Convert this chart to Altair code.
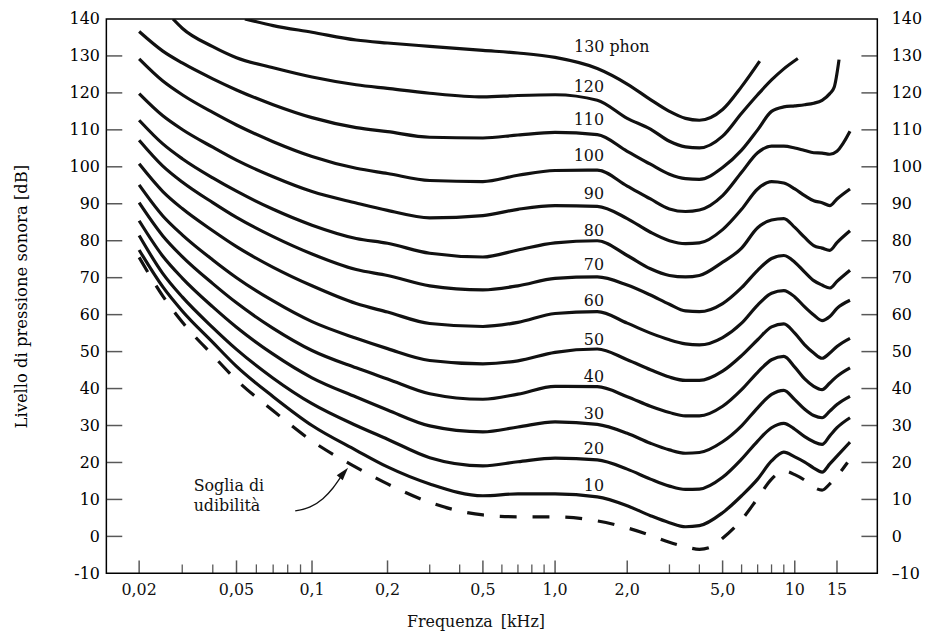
import altair as alt
import pandas as pd

# ---------------- data ----------------
FREQ = [0.02, 0.025, 0.03, 0.04, 0.05, 0.07, 0.1, 0.15, 0.2, 0.3, 0.5, 0.7, 1.0, 1.5, 2.0, 2.5,
        3.0, 3.5, 4.0, 5.0, 6.0, 7.0, 8.0, 9.0, 10.0, 11.0, 12.0, 13.0, 14.0, 15.0, 17.0]

PHON_10 = [77.5, 67.5, 61, 52.5, 46, 37.8, 30, 23.3, 18.8, 14.2, 11, 11.5, 11.5, 10.7, 8.3, 5.6,
           3.7, 2.6, 2.9, 6.4, 11, 15.5, 20.4, 22.8, 21.5, 20.1, 18.5, 17.4, 19.6, 21.7, 25.5]
PHON_20 = [81.4, 71.1, 64.8, 56.5, 50.6, 42.8, 35.9, 30, 26.3, 21.3, 19.1, 20.2, 21.2, 20.7, 18.2, 15.5,
           13.6, 12.7, 12.8, 16, 20.9, 25.8, 29.4, 30.6, 29, 27, 25.6, 24.9, 27.2, 29.4, 32.1]
PHON_30 = [85.4, 75.8, 69.9, 62.1, 56.6, 49.3, 42.9, 37.7, 34.2, 29.9, 28.3, 29.6, 31, 30.3, 27.9, 25.2,
           23.4, 22.5, 22.7, 25.6, 29.9, 34.8, 38.4, 39.5, 37, 34.4, 32.7, 32.1, 33.9, 35.7, 37.9]
PHON_40 = [90.3, 81.3, 75.7, 68.4, 63.2, 56.3, 50.3, 45.6, 42.6, 38.6, 37.1, 38.5, 40.6, 40.5, 37.8, 35.2,
           33.5, 32.6, 32.6, 35.2, 39.7, 44.4, 47.8, 48.7, 45.8, 42.6, 40.6, 39.7, 41.5, 43.3, 45.6]
PHON_50 = [95.1, 86.7, 81.6, 74.8, 70.0, 63.7, 58.1, 53.6, 50.8, 47.6, 46.7, 47.5, 49.8, 50.7, 47.8, 45.1,
           43.1, 42.2, 42.2, 44.7, 48.9, 53.2, 56.7, 57.5, 55, 51.8, 49.6, 48.2, 49.6, 51.4, 53.6]
PHON_60 = [100.8, 93.3, 88.7, 82.7, 78.4, 72.8, 67.8, 63, 60.7, 57.6, 56.8, 57.9, 60.3, 60.8, 57.7, 55,
           53.2, 52.1, 51.8, 53.8, 57.7, 62.6, 65.8, 66.5, 64.8, 62.1, 59.9, 58.4, 59.5, 61.7, 63.9]
PHON_70 = [107.2, 100.2, 95.9, 90.3, 86.3, 81.1, 76.4, 72.2, 70.6, 67.8, 66.7, 67.8, 69.8, 70.2, 68, 65.3,
           62.8, 61, 60.8, 63, 67.3, 72, 75.2, 76, 74.2, 71.5, 69.2, 68, 67.2, 69, 72]
PHON_80 = [112.6, 106.2, 102.2, 97.0, 93.4, 88.5, 84.2, 80.6, 79.3, 76.6, 75.6, 77.5, 79.4, 80, 76, 72.4,
           70.6, 70.2, 70.6, 74.2, 78, 83.5, 85.6, 86, 83.6, 80.9, 78.7, 78, 77.4, 79.5, 82.7]
PHON_90 = [119.8, 113.8, 110.1, 105.3, 101.8, 97.3, 93.3, 90.2, 88.2, 86.2, 86.8, 88.5, 89.5, 89.3, 86, 82.3,
           80, 79.2, 79.4, 83, 88.5, 94, 96, 95.6, 94, 92.2, 90.8, 90.3, 89.5, 91.3, 94]
PHON_100 = [129.2, 123.2, 119.5, 114.7, 111.3, 106.8, 102.8, 99.6, 98.2, 96.3, 96.0, 97.7, 99, 99.1, 94.8, 91.3,
            88.6, 87.9, 88.3, 92.2, 98.5, 103.8, 105.6, 105.6, 105.1, 104.4, 103.8, 103.7, 103.4, 104.2, 109.6]

FREQ_110 = [0.02, 0.025, 0.03, 0.04, 0.05, 0.07, 0.1, 0.15, 0.2, 0.3, 0.5, 0.7, 1.0, 1.5, 2.0, 2.5,
            3.0, 3.5, 4.0, 5.0, 6.0, 7.0, 8.0, 9.0, 10.0, 11.0, 12.0, 13.0, 14.0, 14.6, 15.3]
PHON_110 = [136.6, 131.3, 128.1, 123.8, 120.8, 116.8, 113.3, 110.6, 109.5, 108, 107.8, 108.6, 109.3, 108.7,
            104.2, 100.7, 98, 96.8, 96.6, 99.8, 104.5, 110, 115, 116.2, 116.5, 116.8, 117.2, 118, 119.8,
            121.5, 129]

FREQ_120 = [0.0275, 0.03, 0.04, 0.05, 0.07, 0.1, 0.15, 0.2, 0.3, 0.5, 0.7, 1.0, 1.5, 2.0, 2.5, 3.0,
            3.5, 4.0, 5.0, 6.0, 7.0, 8.0, 9.0, 10.3]
PHON_120 = [140, 137.5, 132.5, 129.5, 126.8, 124.3, 122.2, 121.2, 119.9, 118.9, 119.3, 119.5, 118, 113.1,
            110.2, 106.9, 105.4, 105.1, 108.3, 114.5, 119.5, 123.5, 126.5, 129.3]

FREQ_130 = [0.054, 0.07, 0.1, 0.15, 0.2, 0.3, 0.5, 0.7, 1.0, 1.5, 2.0, 2.5, 3.0, 3.5, 4.0, 5.0, 6.0, 7.14]
PHON_130 = [140, 138.2, 136.4, 134.3, 133.5, 132.6, 131.5, 130.8, 129.6, 126.6, 122.4, 118.2, 115, 113.1,
            112.6, 115.5, 121.7, 128.6]

FREQ_THR = [0.02, 0.025, 0.03, 0.04, 0.05, 0.07, 0.1, 0.15, 0.2, 0.3, 0.5, 0.7, 1.0, 1.5, 2.0, 2.5,
            3.0, 3.5, 4.0, 4.5, 5.0, 6.0, 7.0, 8.0, 9.0, 10.0, 11.0, 12.0, 13.0, 14.0, 15.0, 16.6]
THRESHOLD = [75.5, 65, 58, 49, 42.3, 34, 25.8, 18.7, 14.2, 9.2, 5.8, 5.3, 5.3, 4.2, 2.3, 0.3,
             -1.6, -2.8, -3.5, -2.8, -0.5, 4.5, 10.3, 15.5, 17.7, 16.7, 15.2, 13.3, 12.5, 14.2, 16.3, 20]

LABEL_TEXT = ["120", "110", "100", "90", "80", "70", "60", "50", "40", "30", "20", "10"]
LABEL_DB = [121.7, 112.6, 102.9, 92.7, 82.7, 73.3, 63.7, 53.2, 43.2, 33.0, 23.6, 13.7]
LABEL_F = 1.6
TOP_LABEL = "130 phon"
TOP_LABEL_F = 1.2
TOP_LABEL_DB = 132.5

NOTE_TEXT = ["Soglia di", "udibilità"]
NOTE_F = 0.0334
NOTE_DB = [13.5, 8.1]
ARROW_F = [0.0857, 0.0983, 0.1105, 0.1212, 0.1303]
ARROW_DB = [6.9, 8.0, 10.2, 13.1, 16.1]
HEAD_F = [0.134]
HEAD_DB = [17.2]

Y_TICKS = [-10, 0, 10, 20, 30, 40, 50, 60, 70, 80, 90, 100, 110, 120, 130, 140]
Y_INNER_TICKS = [0, 10, 20, 30, 40, 50, 60, 70, 80, 90, 100, 110, 120, 130]
X_MAJOR = [0.02, 0.05, 0.1, 0.2, 0.5, 1.0, 2.0, 5.0, 10.0, 15.0]
X_LABELS = ["0,02", "0,05", "0,1", "0,2", "0,5", "1,0", "2,0", "5,0", "10", "15"]
X_MINOR = [0.03, 0.04, 0.06, 0.07, 0.08, 0.09, 0.3, 0.4, 0.6, 0.7, 0.8, 0.9, 3, 4, 6, 7, 8, 9]
X_TITLE = "Frequenza\u2002[kHz]"
Y_TITLE = "Livello di pressione sonora [dB]"

# ---------------- tables ----------------
rows = []
for phon, fr, lv in [(10, FREQ, PHON_10), (20, FREQ, PHON_20), (30, FREQ, PHON_30), (40, FREQ, PHON_40),
                     (50, FREQ, PHON_50), (60, FREQ, PHON_60), (70, FREQ, PHON_70), (80, FREQ, PHON_80),
                     (90, FREQ, PHON_90), (100, FREQ, PHON_100), (110, FREQ_110, PHON_110),
                     (120, FREQ_120, PHON_120), (130, FREQ_130, PHON_130)]:
    for f, d in zip(fr, lv):
        rows.append({"phon": phon, "f": f, "db": d})
contours = pd.DataFrame(rows)
thr = pd.DataFrame({"f": FREQ_THR, "db": THRESHOLD})
labels = pd.DataFrame({"t": LABEL_TEXT, "f": [LABEL_F] * len(LABEL_TEXT), "db": LABEL_DB})
toplabel = pd.DataFrame({"t": [TOP_LABEL], "f": [TOP_LABEL_F], "db": [TOP_LABEL_DB]})
note = pd.DataFrame({"t": NOTE_TEXT, "f": [NOTE_F] * 2, "db": NOTE_DB})
arrow = pd.DataFrame({"f": ARROW_F, "db": ARROW_DB})
head = pd.DataFrame({"f": HEAD_F, "db": HEAD_DB})
yit = pd.DataFrame({"v": Y_INNER_TICKS})
xmaj = pd.DataFrame({"f": X_MAJOR, "t": X_LABELS})
xmin = pd.DataFrame({"f": X_MINOR})
xtitle = pd.DataFrame({"t": [X_TITLE]})

W, H = 776, 558
FONT = "DejaVu Serif"
INK = "#111111"

xs = alt.Scale(type="log", domain=[0.0147, 0.02, 0.05, 0.1, 0.2, 22.1],
               range=[0, 33, 131, 207, 283, W], nice=False)
ys = alt.Scale(domain=[-10, 140], nice=False, zero=False)

X = lambda: alt.X("f:Q", scale=xs, axis=None)
Y = lambda: alt.Y("db:Q", scale=ys, axis=None)

lines = alt.Chart(contours).mark_line(interpolate="monotone", strokeWidth=3.2, color=INK, clip=True).encode(
    x=X(), y=Y(), detail="phon:N", order="f:Q")

thresh = alt.Chart(thr).mark_line(interpolate="monotone", strokeWidth=3.2, color=INK,
                                   strokeDash=[17, 16], clip=True).encode(x=X(), y=Y(), order="f:Q")

arrow_line = alt.Chart(arrow).mark_line(interpolate="monotone", strokeWidth=1.3, color=INK).encode(
    x=X(), y=Y(), order="f:Q")
arrow_head = alt.Chart(head).mark_point(shape="M0,-1L0.6,1L-0.6,1Z", filled=True, size=170,
                                        angle=40, color=INK, opacity=1).encode(x=X(), y=Y())

note_text = alt.Chart(note).mark_text(align="left", baseline="middle", font=FONT, fontSize=16,
                                      color=INK).encode(x=X(), y=Y(), text="t:N")
phon_text = alt.Chart(labels).mark_text(align="right", baseline="middle", font=FONT, fontSize=16,
                                        color=INK).encode(x=X(), y=Y(), text="t:N")
top_text = alt.Chart(toplabel).mark_text(align="left", baseline="middle", font=FONT, fontSize=16,
                                         color=INK).encode(x=X(), y=Y(), text="t:N")

left_ticks = alt.Chart(yit).mark_tick(orient="horizontal", size=16, thickness=1.5, color=INK).encode(
    x=alt.value(8),
    y=alt.Y("v:Q", scale=ys, axis=alt.Axis(
        orient="left", values=Y_TICKS, ticks=False, tickSize=0, domain=False, grid=False,
        labelPadding=7, labelFontSize=16, labelExpr="datum.value + ''",
        title=Y_TITLE, titleFontSize=16.5, titleX=-85, titleY=H / 2,
        titleAngle=-90, titleAlign="center", titleBaseline="middle")))

right_ticks = alt.Chart(yit).mark_tick(orient="horizontal", size=16, thickness=1.5, color=INK).encode(
    x=alt.value(W - 8),
    y=alt.Y("v:Q", scale=ys, axis=alt.Axis(
        orient="right", values=Y_TICKS, ticks=False, tickSize=0, domain=False, grid=False,
        labelPadding=14, labelFontSize=16, title=None,
        labelExpr="datum.value == -10 ? '\u201310' : datum.value + ''")))

bottom_major = alt.Chart(xmaj).mark_tick(orient="vertical", size=13, thickness=1.5, color=INK).encode(
    y=alt.value(H - 6.5), x=X())
bottom_labels = alt.Chart(xmaj).mark_text(align="center", baseline="top", font=FONT, fontSize=16,
                                          color=INK).encode(x=X(), y=alt.value(H + 9), text="t:N")
bottom_minor = alt.Chart(xmin).mark_tick(orient="vertical", size=9, thickness=1.3, color=INK).encode(
    y=alt.value(H - 4.5), x=X())
x_title = alt.Chart(xtitle).mark_text(align="center", baseline="alphabetic", font=FONT, fontSize=16,
                                      color=INK).encode(x=alt.value(372), y=alt.value(H + 54), text="t:N")

chart = alt.layer(
    lines, thresh, arrow_line, arrow_head, note_text, phon_text, top_text,
    left_ticks, right_ticks, bottom_major, bottom_minor, bottom_labels, x_title
).properties(
    width=W, height=H,
    autosize=alt.AutoSizeParams(type="none"),
    padding={"left": 99, "top": 9, "right": 50, "bottom": 58},
    background="white",
).configure_view(
    stroke="black", strokeWidth=1.5
).configure_axis(
    labelFont=FONT, titleFont=FONT, labelColor="black", titleColor="black",
    titleFontWeight="normal", domain=False, grid=False
)

chart.save("out.html", embed_options={"renderer": "svg", "actions": False})
